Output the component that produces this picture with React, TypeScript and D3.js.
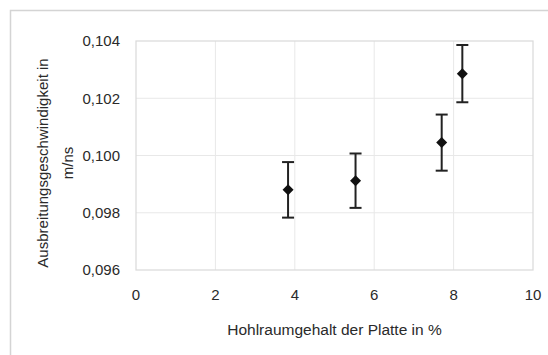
import { useEffect, useRef } from 'react'
import * as d3 from 'd3'

// Hohlraumgehalt (%) vs. Ausbreitungsgeschwindigkeit (m/ns)
const voidContent = [3.83, 5.53, 7.7, 8.22]
const velocity = [0.0988, 0.09912, 0.10045, 0.10286]
const errors = [0.00097, 0.00095, 0.00098, 0.001]

const xTicks = [0, 2, 4, 6, 8, 10]
const yTicks = [0.096, 0.098, 0.1, 0.102, 0.104]

const xTitle = 'Hohlraumgehalt der Platte in %'
const yTitleLines = ['Ausbreitungsgeschwindigkeit in', 'm/ns']

function App() {
  const svgRef = useRef<SVGSVGElement>(null)

  useEffect(() => {
    if (!svgRef.current) return
    const width = 548, height = 355
    const margin = { top: 41, right: 15, bottom: 85, left: 136 }
    const font = 'Liberation Sans, Arial, sans-serif'

    const svg = d3.select(svgRef.current)
    svg.selectAll('*').remove()
    svg.attr('width', width).attr('height', height)

    svg.append('rect')
      .attr('width', width).attr('height', height)
      .attr('fill', '#fff')

    // outer chart frame (only top + left visible)
    svg.append('path')
      .attr('d', `M10.5,${height} V10.5 H${width}`)
      .attr('fill', 'none')
      .attr('stroke', '#d4d4d4')
      .attr('stroke-width', 1.5)

    const x = d3.scaleLinear()
      .domain([0, 10])
      .range([margin.left, width - margin.right])

    const y = d3.scaleLinear()
      .domain([0.096, 0.104])
      .range([height - margin.bottom, margin.top])

    const g = svg.append('g')

    // grid
    g.selectAll('.vgrid')
      .data(xTicks.slice(1, -1))
      .join('line')
      .attr('x1', d => x(d)).attr('x2', d => x(d))
      .attr('y1', y(0.104)).attr('y2', y(0.096))
      .attr('stroke', '#e8e8e8')
      .attr('stroke-width', 1)

    g.selectAll('.hgrid')
      .data(yTicks.slice(1, -1))
      .join('line')
      .attr('x1', x(0)).attr('x2', x(10))
      .attr('y1', d => y(d)).attr('y2', d => y(d))
      .attr('stroke', '#e8e8e8')
      .attr('stroke-width', 1)

    // plot border
    g.append('rect')
      .attr('x', x(0)).attr('y', y(0.104))
      .attr('width', x(10) - x(0)).attr('height', y(0.096) - y(0.104))
      .attr('fill', 'none')
      .attr('stroke', '#d9d9d9')
      .attr('stroke-width', 1.2)

    // tick labels
    g.selectAll('.xl')
      .data(xTicks)
      .join('text')
      .attr('x', d => x(d))
      .attr('y', y(0.096) + 25)
      .attr('dy', '0.35em')
      .attr('text-anchor', 'middle')
      .style('font-family', font)
      .style('font-size', '15px')
      .attr('fill', '#2a2a2a')
      .text(d => String(d))

    g.selectAll('.yl')
      .data(yTicks)
      .join('text')
      .attr('x', x(0) - 16)
      .attr('y', d => y(d))
      .attr('dy', '0.35em')
      .attr('text-anchor', 'end')
      .style('font-family', font)
      .style('font-size', '15px')
      .attr('fill', '#2a2a2a')
      .text(d => d3.format('.3f')(d).replace('.', ','))

    // axis titles
    const cx = (x(0) + x(10)) / 2
    svg.append('text')
      .attr('x', cx).attr('y', 330)
      .attr('dy', '0.35em')
      .attr('text-anchor', 'middle')
      .style('font-family', font)
      .style('font-size', '15.5px')
      .attr('fill', '#2a2a2a')
      .text(xTitle)

    yTitleLines.forEach((line, i) => {
      svg.append('text')
        .attr('transform', `translate(${43 + i * 25},163) rotate(-90)`)
        .attr('dy', '0.35em')
        .attr('text-anchor', 'middle')
        .style('font-family', font)
        .style('font-size', '15px')
        .attr('fill', '#2a2a2a')
        .text(line)
    })

    // error bars
    const pts = voidContent.map((v, i) => ({ x: v, y: velocity[i], e: errors[i] }))
    const eb = g.selectAll('.eb').data(pts).join('g')
    eb.append('line')
      .attr('x1', d => x(d.x)).attr('x2', d => x(d.x))
      .attr('y1', d => y(d.y + d.e)).attr('y2', d => y(d.y - d.e))
      .attr('stroke', '#222').attr('stroke-width', 2)
    ;[1, -1].forEach(s => {
      eb.append('line')
        .attr('x1', d => x(d.x) - 6).attr('x2', d => x(d.x) + 6)
        .attr('y1', d => y(d.y + s * d.e)).attr('y2', d => y(d.y + s * d.e))
        .attr('stroke', '#222').attr('stroke-width', 2)
    })

    // markers
    g.selectAll('.pt')
      .data(pts)
      .join('path')
      .attr('transform', d => `translate(${x(d.x)},${y(d.y)})`)
      .attr('d', 'M0,-5.5 L5.5,0 L0,5.5 L-5.5,0 Z')
      .attr('fill', '#111')
  }, [])

  return (
    <div style={{ position: 'absolute', left: 0, top: 0 }}>
      <svg ref={svgRef}></svg>
    </div>
  )
}

export default App
